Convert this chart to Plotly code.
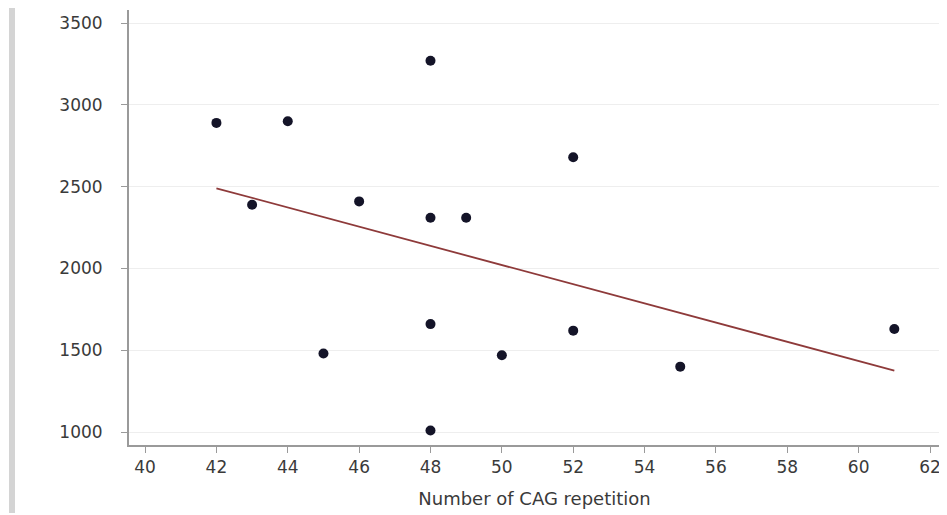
import numpy as np
import plotly.graph_objects as go

cag = [42, 43, 44, 45, 46, 48, 48, 48, 48, 49, 50, 52, 52, 55, 61]
values = [2890, 2390, 2900, 1480, 2410, 3270, 2310, 1660, 1010, 2310, 1470, 2680, 1620, 1400, 1630]
x_ticks = list(range(40, 63, 2))
y_ticks = [1000, 1500, 2000, 2500, 3000, 3500]
x_title = "Number of CAG repetition"

slope, intercept = np.polyfit(cag, values, 1)
fit_x = [min(cag), max(cag)]
fit_y = [slope * v + intercept for v in fit_x]

fig = go.Figure()
fig.add_trace(go.Scatter(x=fit_x, y=fit_y, mode="lines",
                         line=dict(color="#8e3a3a", width=1.8), hoverinfo="skip"))
fig.add_trace(go.Scatter(x=cag, y=values, mode="markers",
                         marker=dict(color="#141428", size=10)))

# page body has an 8px margin, so the figure is offset by 8px
OFF = 8
W, H = 947 - OFF, 515 - OFF
L, R, T, B = 129 - OFF, 7, 10 - OFF, H - (445 - OFF)
pw, ph = W - L - R, H - T - B

def px(xp):
    return (xp - OFF - L) / pw

def py(yp):
    return (H - B - (yp - OFF)) / ph

fig.add_shape(type="rect", xref="paper", yref="paper",
              x0=px(9), x1=px(15), y0=py(513), y1=py(8),
              fillcolor="#d4d4d4", line=dict(width=0), layer="below")

font = dict(family="DejaVu Sans", size=17, color="#3a3a3a")
fig.update_layout(
    width=W, height=H,
    margin=dict(l=L, r=R, t=T, b=B, autoexpand=False),
    plot_bgcolor="white", paper_bgcolor="white",
    showlegend=False,
    font=font,
    xaxis=dict(range=[39.55, 62.28], tickvals=x_ticks, showgrid=False,
               showline=True, linecolor="#9a9a9a", linewidth=2,
               ticks="outside", ticklen=6, tickcolor="#9a9a9a", tickwidth=1,
               zeroline=False, tickfont=font, ticklabelstandoff=0,
               title=dict(text=x_title, font=dict(family="DejaVu Sans", size=18, color="#3a3a3a"), standoff=16)),
    yaxis=dict(range=[921, 3580], tickvals=y_ticks, showgrid=True,
               gridcolor="#eeeeee", gridwidth=1,
               showline=True, linecolor="#9a9a9a", linewidth=2,
               ticks="outside", ticklen=6, tickcolor="#9a9a9a", tickwidth=1,
               zeroline=False, tickfont=font, ticklabelstandoff=15),
)
fig.write_html("out.html")
